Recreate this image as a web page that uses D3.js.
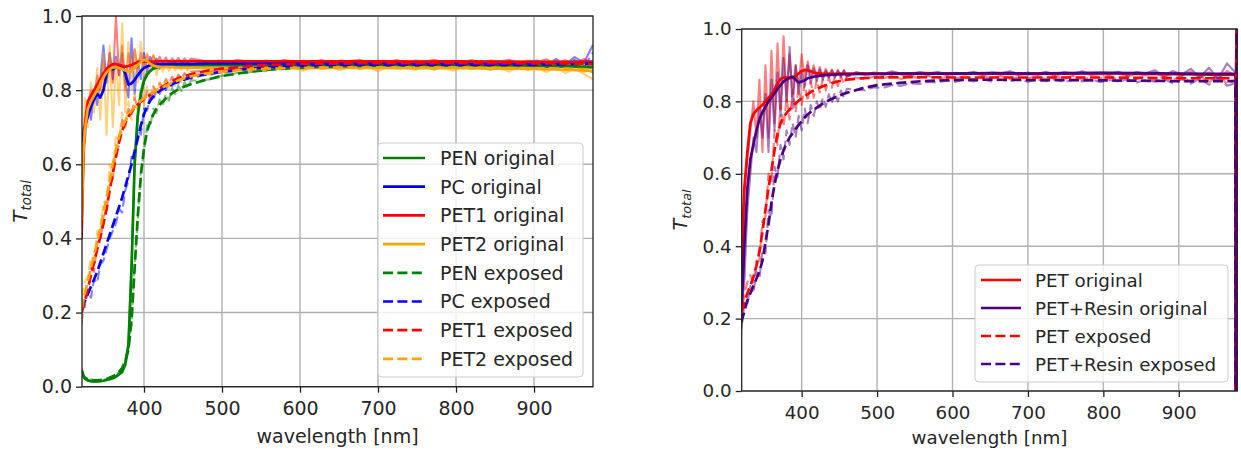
<!DOCTYPE html>
<html><head><meta charset="utf-8">
<script src="https://cdn.jsdelivr.net/npm/d3@7"></script>
<style>html,body{margin:0;padding:0;background:#fff;} svg{display:block;font-family:"DejaVu Sans",sans-serif;}</style>
</head><body><svg id="c" width="1241" height="452"></svg>
<script>
// ---------- shared grids ----------
const xTicks = [400, 500, 600, 700, 800, 900];
const yTicks = [0.0, 0.2, 0.4, 0.6, 0.8, 1.0];
const wlSmooth = [320,322,324,328,332,336,340,344,348,352,356,360,364,368,372,376,380,384,388,392,396,400,404,408,412,416,420,428,436,444,452,460,480,500,530,560,600,650,700,750,800,850,900,940,975,976,977];
const wlRaw = [320,324,328,332,336,340,344,348,352,356,360,364,368,372,376,380,384,388,392,396,400,404,408,412,416,420,424,428,432,436,440,444,448,452,456,460,
  472,484,496,508,520,532,544,556,568,580,592,604,616,628,640,652,664,676,688,700,712,724,736,748,760,772,784,796,808,820,832,844,856,868,880,892,904,916,928,940,952,964,975,976,977];

// ---------- left panel: smoothed series ----------
const smPENorig = [0.045,0.03,0.022,0.017,0.015,0.014,0.014,0.015,0.016,0.018,0.02,0.023,0.027,0.033,0.04,0.06,0.11,0.32,0.6,0.73,0.79,0.825,0.842,0.852,0.858,0.861,0.863,0.865,0.866,0.866,0.866,0.867,0.867,0.867,0.867,0.867,0.867,0.868,0.868,0.868,0.867,0.867,0.866,0.865,0.862,0.862,0.862];
const smPCorig = [0.66,0.68,0.7,0.73,0.755,0.775,0.79,0.78,0.8,0.845,0.862,0.856,0.862,0.866,0.862,0.845,0.815,0.818,0.828,0.84,0.852,0.86,0.864,0.867,0.869,0.869,0.87,0.87,0.871,0.871,0.871,0.871,0.872,0.872,0.872,0.872,0.872,0.872,0.872,0.871,0.872,0.871,0.873,0.875,0.876,0.876,0.876];
const smPET1orig = [0.4,0.6,0.7,0.77,0.785,0.8,0.815,0.83,0.845,0.857,0.865,0.87,0.87,0.868,0.866,0.863,0.865,0.868,0.872,0.875,0.877,0.878,0.877,0.877,0.877,0.877,0.878,0.878,0.878,0.878,0.878,0.878,0.878,0.878,0.878,0.878,0.878,0.878,0.878,0.877,0.878,0.877,0.876,0.876,0.876,0.876,0.876];
const smPET2orig = [0.45,0.62,0.69,0.75,0.77,0.785,0.8,0.818,0.835,0.848,0.857,0.861,0.862,0.86,0.857,0.853,0.85,0.852,0.86,0.868,0.876,0.882,0.879,0.871,0.866,0.864,0.863,0.862,0.862,0.861,0.861,0.861,0.86,0.86,0.86,0.86,0.86,0.86,0.86,0.859,0.86,0.858,0.857,0.855,0.852,0.852,0.852];
const smPENexp = [0.04,0.03,0.024,0.02,0.018,0.017,0.017,0.018,0.019,0.021,0.024,0.028,0.033,0.04,0.05,0.07,0.1,0.18,0.32,0.46,0.57,0.645,0.69,0.715,0.735,0.75,0.76,0.778,0.792,0.802,0.81,0.816,0.828,0.838,0.848,0.855,0.861,0.864,0.866,0.866,0.866,0.866,0.865,0.864,0.862,0.862,0.862];
const smPCexp = [0.21,0.22,0.23,0.25,0.27,0.29,0.31,0.335,0.36,0.385,0.41,0.435,0.46,0.485,0.51,0.54,0.57,0.6,0.635,0.67,0.705,0.735,0.757,0.772,0.783,0.792,0.798,0.808,0.816,0.823,0.829,0.834,0.843,0.85,0.857,0.862,0.866,0.868,0.869,0.869,0.869,0.869,0.869,0.87,0.872,0.872,0.872];
const smPET1exp = [0.2,0.215,0.23,0.265,0.3,0.335,0.37,0.405,0.44,0.48,0.53,0.575,0.62,0.66,0.69,0.712,0.728,0.741,0.752,0.761,0.769,0.776,0.782,0.788,0.794,0.8,0.805,0.815,0.824,0.832,0.838,0.843,0.852,0.858,0.864,0.868,0.871,0.872,0.873,0.873,0.873,0.873,0.872,0.872,0.871,0.871,0.871];
const smPET2exp = [0.21,0.23,0.25,0.285,0.32,0.355,0.39,0.43,0.47,0.51,0.555,0.6,0.64,0.675,0.7,0.718,0.733,0.745,0.755,0.764,0.772,0.778,0.784,0.79,0.795,0.8,0.804,0.812,0.82,0.827,0.832,0.837,0.845,0.85,0.855,0.858,0.86,0.861,0.861,0.861,0.861,0.86,0.859,0.858,0.856,0.856,0.856];

// ---------- left panel: raw (noisy) series ----------
const rawPENorig = [0.05,0.022,0.016,0.014,0.013,0.015,0.014,0.017,0.018,0.021,0.024,0.028,0.035,0.043,0.065,0.12,0.33,0.62,0.74,0.8,0.835,0.848,0.852,0.862,0.858,0.87,0.864,0.872,0.866,0.875,0.862,0.87,0.868,0.876,0.864,0.87,
  0.864,0.87,0.866,0.871,0.865,0.868,0.872,0.866,0.869,0.864,0.87,0.867,0.872,0.865,0.869,0.867,0.871,0.864,0.868,0.87,0.865,0.871,0.867,0.869,0.864,0.87,0.866,0.872,0.865,0.868,0.87,0.864,0.871,0.866,0.869,0.863,0.872,0.862,0.87,0.861,0.873,0.858,0.848,0.848,0.848];
const rawPCorig = [0.7,0.66,0.76,0.72,0.8,0.76,0.83,0.92,0.82,0.9,0.83,0.89,0.84,0.9,0.82,0.78,0.94,0.79,0.88,0.83,0.9,0.85,0.89,0.86,0.885,0.858,0.88,0.862,0.878,0.865,0.877,0.866,0.876,0.864,0.878,0.866,
  0.875,0.869,0.874,0.87,0.876,0.871,0.868,0.874,0.87,0.876,0.869,0.873,0.871,0.875,0.868,0.874,0.872,0.876,0.869,0.873,0.87,0.875,0.868,0.874,0.871,0.876,0.869,0.873,0.87,0.877,0.868,0.875,0.871,0.878,0.868,0.876,0.88,0.867,0.884,0.869,0.889,0.874,0.92,0.92,0.92];
const rawPET1orig = [0.42,0.72,0.76,0.8,0.78,0.84,0.8,0.88,0.83,0.9,0.82,1.0,0.84,0.92,0.8,0.9,0.85,0.91,0.86,0.9,0.865,0.895,0.87,0.893,0.872,0.89,0.874,0.888,0.872,0.886,0.875,0.887,0.873,0.886,0.874,0.885,
  0.881,0.875,0.88,0.876,0.882,0.877,0.874,0.88,0.876,0.882,0.875,0.879,0.877,0.881,0.874,0.88,0.878,0.882,0.875,0.879,0.876,0.881,0.874,0.88,0.877,0.882,0.875,0.879,0.876,0.881,0.873,0.88,0.877,0.882,0.872,0.879,0.875,0.883,0.87,0.881,0.868,0.884,0.87,0.87,0.87];
const rawPET2orig = [0.44,0.78,0.7,0.82,0.74,0.86,0.72,0.9,0.68,0.92,0.7,0.88,0.76,0.98,0.74,0.93,0.8,0.91,0.82,0.93,0.84,0.9,0.85,0.895,0.84,0.88,0.85,0.878,0.852,0.875,0.853,0.872,0.854,0.87,0.853,0.868,
  0.864,0.857,0.862,0.853,0.863,0.858,0.861,0.855,0.864,0.857,0.86,0.852,0.863,0.858,0.861,0.854,0.864,0.857,0.862,0.851,0.863,0.858,0.86,0.855,0.864,0.856,0.862,0.852,0.863,0.857,0.861,0.854,0.862,0.85,0.863,0.855,0.86,0.849,0.862,0.846,0.858,0.843,0.83,0.83,0.83];
const rawPENexp = [0.045,0.026,0.019,0.02,0.016,0.018,0.017,0.02,0.02,0.025,0.027,0.034,0.039,0.052,0.068,0.105,0.17,0.33,0.45,0.585,0.63,0.705,0.7,0.75,0.738,0.775,0.758,0.79,0.772,0.805,0.79,0.812,0.798,0.822,0.806,0.826,
  0.826,0.829,0.838,0.84,0.847,0.846,0.853,0.851,0.858,0.855,0.862,0.858,0.864,0.861,0.866,0.862,0.868,0.863,0.867,0.864,0.869,0.863,0.868,0.865,0.87,0.862,0.867,0.866,0.869,0.863,0.868,0.865,0.87,0.862,0.868,0.864,0.87,0.861,0.869,0.86,0.871,0.856,0.845,0.845,0.845];
const rawPCexp = [0.23,0.215,0.26,0.24,0.29,0.28,0.33,0.34,0.37,0.4,0.42,0.44,0.48,0.47,0.53,0.555,0.62,0.61,0.69,0.68,0.75,0.745,0.785,0.77,0.805,0.79,0.815,0.8,0.82,0.81,0.83,0.818,0.832,0.824,0.838,0.83,
  0.842,0.841,0.848,0.847,0.855,0.853,0.859,0.858,0.863,0.861,0.866,0.864,0.869,0.866,0.87,0.867,0.872,0.866,0.871,0.868,0.872,0.867,0.871,0.869,0.873,0.866,0.871,0.868,0.874,0.867,0.872,0.869,0.875,0.866,0.873,0.868,0.876,0.865,0.878,0.864,0.882,0.862,0.9,0.9,0.9];
const rawPET1exp = [0.17,0.25,0.25,0.32,0.31,0.39,0.39,0.46,0.47,0.55,0.56,0.64,0.65,0.72,0.7,0.75,0.73,0.78,0.75,0.79,0.765,0.8,0.78,0.81,0.795,0.82,0.805,0.83,0.815,0.836,0.82,0.842,0.83,0.846,0.835,0.85,
  0.851,0.85,0.857,0.856,0.862,0.861,0.866,0.864,0.87,0.867,0.873,0.869,0.875,0.87,0.876,0.871,0.875,0.87,0.876,0.872,0.875,0.869,0.877,0.871,0.875,0.869,0.876,0.872,0.874,0.87,0.877,0.869,0.875,0.871,0.876,0.868,0.877,0.867,0.875,0.866,0.877,0.864,0.87,0.87,0.87];
const rawPET2exp = [0.24,0.28,0.3,0.35,0.34,0.42,0.41,0.5,0.49,0.6,0.57,0.68,0.66,0.74,0.7,0.77,0.72,0.79,0.74,0.8,0.76,0.81,0.77,0.815,0.79,0.82,0.8,0.826,0.805,0.832,0.812,0.836,0.82,0.84,0.826,0.843,
  0.845,0.841,0.85,0.846,0.855,0.85,0.858,0.853,0.861,0.856,0.863,0.857,0.864,0.857,0.863,0.858,0.865,0.857,0.864,0.858,0.863,0.856,0.865,0.858,0.863,0.855,0.864,0.858,0.863,0.856,0.865,0.855,0.863,0.857,0.864,0.854,0.863,0.853,0.862,0.852,0.861,0.849,0.85,0.85,0.85];

// ---------- right panel: smoothed series ----------
const smPETorig = [0.3,0.45,0.56,0.66,0.74,0.765,0.775,0.783,0.79,0.8,0.81,0.82,0.833,0.85,0.862,0.866,0.866,0.864,0.865,0.87,0.877,0.884,0.887,0.886,0.883,0.88,0.878,0.876,0.876,0.876,0.877,0.877,0.877,0.877,0.877,0.878,0.877,0.877,0.876,0.877,0.878,0.876,0.875,0.874,0.873,0.873,0.873];
const smPETRorig = [0.22,0.3,0.4,0.56,0.64,0.68,0.72,0.75,0.77,0.785,0.8,0.81,0.822,0.835,0.845,0.855,0.86,0.866,0.868,0.86,0.852,0.855,0.858,0.864,0.866,0.868,0.87,0.872,0.873,0.874,0.875,0.875,0.876,0.876,0.877,0.877,0.877,0.878,0.877,0.878,0.879,0.878,0.877,0.876,0.876,-3,3];
const smPETexp = [0.22,0.23,0.245,0.27,0.29,0.315,0.345,0.385,0.44,0.5,0.56,0.61,0.665,0.71,0.74,0.757,0.768,0.778,0.786,0.795,0.802,0.808,0.814,0.82,0.826,0.83,0.834,0.842,0.848,0.853,0.857,0.86,0.864,0.866,0.867,0.867,0.866,0.866,0.866,0.866,0.866,0.865,0.864,0.864,0.864,-3,3];
const smPETRexp = [0.19,0.205,0.22,0.25,0.27,0.29,0.31,0.33,0.36,0.41,0.46,0.52,0.57,0.61,0.64,0.665,0.685,0.7,0.712,0.724,0.735,0.745,0.755,0.764,0.771,0.777,0.783,0.794,0.803,0.811,0.818,0.824,0.836,0.845,0.851,0.856,0.859,0.86,0.859,0.859,0.858,0.857,0.856,0.856,0.856,-3,3];

// ---------- right panel: raw (noisy) series ----------
const rawPETorig = [0.28,0.55,0.64,0.72,0.8,0.7,0.86,0.66,0.9,0.7,0.94,0.74,0.96,0.78,0.98,0.8,0.93,0.82,0.9,0.84,0.93,0.86,0.91,0.87,0.9,0.866,0.895,0.868,0.89,0.87,0.888,0.868,0.887,0.869,0.886,0.87,
  0.879,0.872,0.877,0.873,0.88,0.874,0.871,0.878,0.873,0.879,0.872,0.876,0.874,0.879,0.871,0.877,0.875,0.88,0.872,0.877,0.873,0.879,0.871,0.878,0.874,0.88,0.872,0.876,0.873,0.879,0.869,0.877,0.873,0.88,0.867,0.878,0.871,0.882,0.864,0.88,0.862,0.884,0.87,0.96,1.4];
const rawPETRorig = [0.22,0.3,0.5,0.6,0.7,0.66,0.78,0.7,0.82,0.66,0.86,0.72,0.88,0.76,0.92,0.8,0.95,0.78,0.9,0.82,0.88,0.84,0.9,0.85,0.89,0.856,0.888,0.86,0.885,0.864,0.886,0.866,0.884,0.868,0.885,0.868,
  0.881,0.875,0.88,0.876,0.883,0.877,0.874,0.881,0.876,0.882,0.875,0.879,0.877,0.882,0.874,0.88,0.878,0.883,0.875,0.88,0.876,0.882,0.874,0.881,0.877,0.883,0.875,0.879,0.876,0.882,0.873,0.881,0.877,0.886,0.871,0.884,0.875,0.89,0.866,0.893,0.862,0.905,0.88,-2,2];
const rawPETexp = [0.2,0.27,0.3,0.32,0.3,0.36,0.36,0.47,0.48,0.6,0.58,0.72,0.68,0.79,0.73,0.81,0.75,0.83,0.77,0.84,0.79,0.85,0.8,0.855,0.81,0.86,0.825,0.862,0.83,0.866,0.838,0.868,0.842,0.87,0.848,0.872,
  0.866,0.861,0.869,0.864,0.87,0.862,0.868,0.865,0.87,0.862,0.867,0.864,0.869,0.861,0.868,0.865,0.87,0.862,0.867,0.864,0.869,0.861,0.868,0.863,0.87,0.86,0.867,0.864,0.869,0.859,0.868,0.862,0.87,0.857,0.868,0.86,0.871,0.854,0.872,0.851,0.875,0.848,0.86,-2,2];
const rawPETRexp = [0.17,0.24,0.24,0.29,0.27,0.33,0.31,0.39,0.38,0.5,0.48,0.62,0.59,0.68,0.64,0.72,0.68,0.74,0.7,0.76,0.72,0.78,0.74,0.79,0.76,0.8,0.775,0.81,0.785,0.82,0.795,0.825,0.8,0.83,0.81,0.835,
  0.832,0.831,0.839,0.837,0.845,0.843,0.85,0.848,0.854,0.852,0.858,0.854,0.86,0.855,0.861,0.855,0.86,0.856,0.861,0.854,0.86,0.856,0.861,0.853,0.86,0.855,0.861,0.853,0.859,0.855,0.861,0.852,0.86,0.854,0.862,0.85,0.861,0.849,0.863,0.846,0.866,0.843,0.85,-2,2];

// ---------- legend labels ----------
const leftLabels = ["PEN original","PC original","PET1 original","PET2 original","PEN exposed","PC exposed","PET1 exposed","PET2 exposed"];
const rightLabels = ["PET original","PET+Resin original","PET exposed","PET+Resin exposed"];

const GREEN = "#008000", BLUE = "#0000ff", RED = "#ff0000", ORANGE = "#ffa500", INDIGO = "#4b0082";
const DASH = "10,4.4";

const leftSeries = [
  {label: leftLabels[0], color: GREEN, dash: null, raw: rawPENorig, sm: smPENorig},
  {label: leftLabels[1], color: BLUE, dash: null, raw: rawPCorig, sm: smPCorig},
  {label: leftLabels[2], color: RED, dash: null, raw: rawPET1orig, sm: smPET1orig},
  {label: leftLabels[3], color: ORANGE, dash: null, raw: rawPET2orig, sm: smPET2orig},
  {label: leftLabels[4], color: GREEN, dash: DASH, raw: rawPENexp, sm: smPENexp},
  {label: leftLabels[5], color: BLUE, dash: DASH, raw: rawPCexp, sm: smPCexp},
  {label: leftLabels[6], color: RED, dash: DASH, raw: rawPET1exp, sm: smPET1exp},
  {label: leftLabels[7], color: ORANGE, dash: DASH, raw: rawPET2exp, sm: smPET2exp}
];
const rightSeries = [
  {label: rightLabels[0], color: RED, dash: null, raw: rawPETorig, sm: smPETorig},
  {label: rightLabels[1], color: INDIGO, dash: null, raw: rawPETRorig, sm: smPETRorig},
  {label: rightLabels[2], color: RED, dash: DASH, raw: rawPETexp, sm: smPETexp},
  {label: rightLabels[3], color: INDIGO, dash: DASH, raw: rawPETRexp, sm: smPETRexp}
];

const svg = d3.select("#c");
const defs = svg.append("defs");
const TXT = "#262626";

function panel(cfg) {
  const FS = cfg.fs;
  const x = d3.scaleLinear().domain(cfg.xDomain).range([cfg.left, cfg.right]);
  const y = d3.scaleLinear().domain([0, 1]).range([cfg.bottom, cfg.top]);
  const g = svg.append("g");

  // grid
  g.append("g").selectAll("line").data(xTicks).join("line")
    .attr("x1", d => x(d)).attr("x2", d => x(d)).attr("y1", cfg.top).attr("y2", cfg.bottom)
    .attr("stroke", "#b0b0b0").attr("stroke-width", 1.4);
  g.append("g").selectAll("line").data(yTicks).join("line")
    .attr("y1", d => y(d)).attr("y2", d => y(d)).attr("x1", cfg.left).attr("x2", cfg.right)
    .attr("stroke", "#b0b0b0").attr("stroke-width", 1.4);

  defs.append("clipPath").attr("id", "clip-" + cfg.name).append("rect")
    .attr("x", cfg.left).attr("y", cfg.top).attr("width", cfg.right - cfg.left).attr("height", cfg.bottom - cfg.top);
  const plot = g.append("g").attr("clip-path", `url(#clip-${cfg.name})`);

  const mkLine = xs => d3.line().x((d, i) => x(xs[i])).y(d => y(d));
  const rawLine = mkLine(wlRaw), smLine = mkLine(wlSmooth);

  cfg.series.forEach(s => {
    plot.append("path").datum(s.raw.slice(0, wlRaw.length))
      .attr("d", rawLine).attr("fill", "none").attr("stroke", s.color)
      .attr("stroke-opacity", 0.5).attr("stroke-width", 2.1)
      .attr("stroke-linejoin", "round")
      .attr("stroke-dasharray", s.dash);
  });
  cfg.series.forEach(s => {
    plot.append("path").datum(s.sm.slice(0, wlSmooth.length))
      .attr("d", smLine).attr("fill", "none").attr("stroke", s.color)
      .attr("stroke-width", 2.7).attr("stroke-linejoin", "round")
      .attr("stroke-dasharray", s.dash);
  });

  // axes
  const ax = g.append("g").attr("transform", `translate(0,${cfg.bottom})`)
    .call(d3.axisBottom(x).tickValues(xTicks).tickSize(6).tickSizeOuter(0).tickPadding(9).tickFormat(d3.format("d")));
  const ay = g.append("g").attr("transform", `translate(${cfg.left},0)`)
    .call(d3.axisLeft(y).tickValues(yTicks).tickSize(6).tickSizeOuter(0).tickPadding(4).tickFormat(d3.format(".1f")));
  [ax, ay].forEach(a => {
    a.select(".domain").remove();
    a.attr("font-family", "'DejaVu Sans', sans-serif").attr("font-size", FS);
    a.selectAll(".tick line").attr("stroke", "#222").attr("stroke-width", 1.3);
    a.selectAll(".tick text").attr("fill", TXT);
  });

  // spines
  g.append("rect").attr("x", cfg.left).attr("y", cfg.top)
    .attr("width", cfg.right - cfg.left).attr("height", cfg.bottom - cfg.top)
    .attr("fill", "none").attr("stroke", "#222").attr("stroke-width", 1.3);

  // axis labels
  g.append("text").attr("x", (cfg.left + cfg.right) / 2).attr("y", cfg.bottom + cfg.xlabelDy)
    .attr("text-anchor", "middle").attr("font-size", FS).attr("fill", TXT).text("wavelength [nm]");
  const yl = g.append("text")
    .attr("transform", `translate(${cfg.ylabelX},${(cfg.top + cfg.bottom) / 2}) rotate(-90)`)
    .attr("text-anchor", "middle").attr("fill", TXT);
  yl.append("tspan").attr("font-style", "italic").attr("font-size", FS + 1).text("T");
  yl.append("tspan").attr("font-style", "italic").attr("font-size", FS * 0.7).attr("dy", 4).text("total");

  // legend
  const L = cfg.legend;
  const lg = g.append("g");
  lg.append("rect").attr("x", L.x).attr("y", L.y).attr("width", L.w).attr("height", L.h)
    .attr("rx", 4).attr("fill", "#fff").attr("fill-opacity", 0.8)
    .attr("stroke", "#cccccc").attr("stroke-width", 1);
  cfg.series.forEach((s, i) => {
    const yy = L.row0 + i * L.dy;
    lg.append("line").attr("x1", L.x1).attr("x2", L.x1 + L.len).attr("y1", yy).attr("y2", yy)
      .attr("stroke", s.color).attr("stroke-width", 2.7).attr("stroke-dasharray", s.dash);
    lg.append("text").attr("x", L.tx).attr("y", yy).attr("dy", "0.36em")
      .attr("font-size", FS).attr("fill", TXT).text(s.label);
  });
}

panel({
  name: "left", left: 82, right: 593, top: 16, bottom: 386.7, fs: 19, xlabelDy: 56,
  xDomain: [320.5, 975.6], ylabelX: 27, series: leftSeries,
  legend: {x: 378, y: 143, w: 205, h: 234, row0: 158, dy: 28.7, x1: 383, len: 42, tx: 440}
});
panel({
  name: "right", left: 741.7, right: 1237.3, top: 29, bottom: 391, fs: 18.3, xlabelDy: 53,
  xDomain: [320.5, 977.6], ylabelX: 687, series: rightSeries,
  legend: {x: 975, y: 265, w: 253, h: 117, row0: 280, dy: 28, x1: 981, len: 40, tx: 1035}
});
</script>
</body></html>
